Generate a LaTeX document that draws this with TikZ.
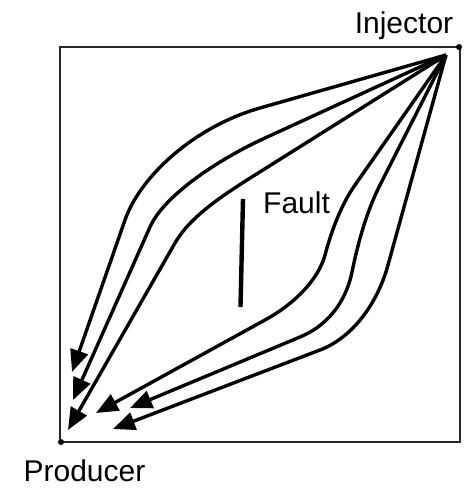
\documentclass[tikz,border=0pt]{standalone}
\usepackage{fontspec}
\setmainfont{Liberation Sans}
\usetikzlibrary{arrows.meta}
\begin{document}
\begin{tikzpicture}[x=1pt,y=-1pt,
  flow/.style={line width=3.4pt, -{Triangle[length=22pt,width=18pt]}},
  lbl/.style={font=\fontsize{30}{36}\selectfont, inner sep=0pt},
  well/.style={circle, fill, inner sep=0pt, minimum size=6pt}]
\useasboundingbox (0,0) rectangle (472,488);
\draw[line width=1.4pt, black!85] (60,47) rectangle (460,442);
\node[well] (injdot) at (459,47) {};
\node[well] (proddot) at (61,442) {};
\node[lbl, anchor=base] (inj) at (404,33) {Injector};
\node[lbl, anchor=base] (prod) at (84.5,481) {Producer};
\node[lbl, anchor=base west] (flt) at (263,213) {Fault};
\coordinate (ft) at (243,199);
\coordinate (fb) at (240.5,307);
\draw[line width=4.4pt] (ft) -- (fb);
\coordinate (src) at (446,55);
\coordinate (t1) at (72,372);
\coordinate (t2) at (73,400);
\coordinate (t3) at (68,430);
\coordinate (tA) at (96,413);
\coordinate (tB) at (130,408);
\coordinate (tC) at (113,429);
\draw[flow] (src) -- (260,108) .. controls (192.7,127.2) and (139.8,177.5) .. (125,220) -- (t1);
\draw[flow] (src) -- (265,138) .. controls (219.5,158.8) and (164.2,195) .. (150,227) -- (t2);
\draw[flow] (src) -- (255,175) .. controls (221,196.3) and (190,217) .. (175,243) -- (t3);
\draw[flow] (src) -- (355,185) .. controls (340.7,205.5) and (331.5,231) .. (325,255)
  .. controls (318.5,279) and (295.7,303.1) .. (265,320) -- (tA);
\draw[flow] (src) -- (380,185) .. controls (366.4,211.8) and (358,243) .. (352,272)
  .. controls (347,296.5) and (332.3,323.5) .. (300,337) -- (tB);
\draw[flow] (src) -- (388,265) .. controls (377.4,303.6) and (352.7,337.5) .. (320,350) -- (tC);
\end{tikzpicture}
\end{document}
